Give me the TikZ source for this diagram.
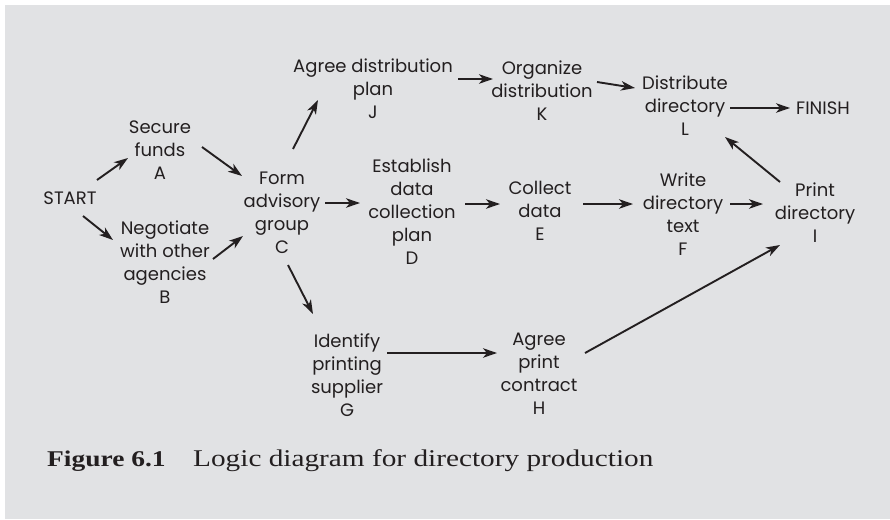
\documentclass[tikz,border=0pt]{standalone}
\usepackage{fontspec}
\newfontfamily\diagfont{Poppins}
\newfontfamily\capfont[FakeStretch=1.22]{Liberation Serif}
\usetikzlibrary{arrows.meta}
\definecolor{panelgray}{RGB}{225,226,228}
\definecolor{inkgray}{RGB}{35,31,32}

\begin{document}
\begin{tikzpicture}[
        x=1pt, y=-1pt,
        every node/.style={align=center, inner sep=0pt, text=inkgray},
        task/.style={font=\diagfont\fontsize{18}{23}\selectfont},
        caption/.style={anchor=base west, font=\capfont\fontsize{24}{28}\selectfont},
        link/.style={draw=inkgray, line width=1.9pt, -{Stealth[length=14pt,width=9.5pt,inset=4pt]}}
    ]

    % Panel
    \useasboundingbox (0,0) rectangle (890,519);
    \fill[panelgray] (5,5) rectangle (890,519);

    % Nodes
    \node[task] (start)  at (70,198)  {START};
    \node[task] (A)      at (160,150) {Secure\\funds\\A};
    \node[task] (B)      at (165,262) {Negotiate\\with other\\agencies\\B};
    \node[task] (C)      at (282,213) {Form\\advisory\\group\\C};
    \node[task] (J)      at (373,89)  {Agree distribution\\plan\\J};
    \node[task] (D)      at (412,212) {Establish\\data\\collection\\plan\\D};
    \node[task] (G)      at (347,375) {Identify\\printing\\supplier\\G};
    \node[task] (K)      at (542,91)  {Organize\\distribution\\K};
    \node[task] (E)      at (540,211) {Collect\\data\\E};
    \node[task] (H)      at (539,374) {Agree\\print\\contract\\H};
    \node[task] (L)      at (685,106) {Distribute\\directory\\L};
    \node[task] (F)      at (683,214) {Write\\directory\\text\\F};
    \node[task] (I)      at (815,213) {Print\\directory\\I};
    \node[task] (finish) at (823,108) {FINISH};

    \node[caption] (figlabel) at (47,466)  {\fontsize{22.5}{28}\selectfont\bfseries Figure 6.1};
    \node[caption] (figtitle) at (193,466) {Logic diagram for directory production};

    % Edges
    \draw[link] ([shift={(27,-18)}]start.center) -- ([shift={(-32,8)}]A.center);
    \draw[link] ([shift={(13,18)}]start.center)  -- ([shift={(-52,-22)}]B.center);
    \draw[link] ([shift={(42,-3)}]A.center)      -- ([shift={(-40,-37)}]C.center);
    \draw[link] ([shift={(48,-3)}]B.center)      -- ([shift={(-39,23)}]C.center);
    \draw[link] ([shift={(11,-64)}]C.center)     -- ([shift={(-55,11)}]J.center);
    \draw[link] ([shift={(43,-10)}]C.center)     -- ([shift={(-52,-9)}]D.center);
    \draw[link] ([shift={(6,52)}]C.center)       -- ([shift={(-34,-61)}]G.center);
    \draw[link] ([shift={(85,-10)}]J.center)     -- ([shift={(-49,-12)}]K.center);
    \draw[link] ([shift={(55,-9)}]K.center)      -- ([shift={(-50,-18)}]L.center);
    \draw[link] ([shift={(45,2)}]L.center)       -- ([shift={(-33,0)}]finish.center);
    \draw[link] ([shift={(53,-8)}]D.center)      -- ([shift={(-40,-7)}]E.center);
    \draw[link] ([shift={(43,-7)}]E.center)      -- ([shift={(-50,-10)}]F.center);
    \draw[link] ([shift={(47,-10)}]F.center)     -- ([shift={(-52,-9)}]I.center);
    \draw[link] ([shift={(-35,-31)}]I.center)    -- ([shift={(40,31)}]L.center);
    \draw[link] ([shift={(40,-22)}]G.center)     -- ([shift={(-42,-21)}]H.center);
    \draw[link] ([shift={(46,-21)}]H.center)     -- ([shift={(-35,32)}]I.center);

\end{tikzpicture}
\end{document}
